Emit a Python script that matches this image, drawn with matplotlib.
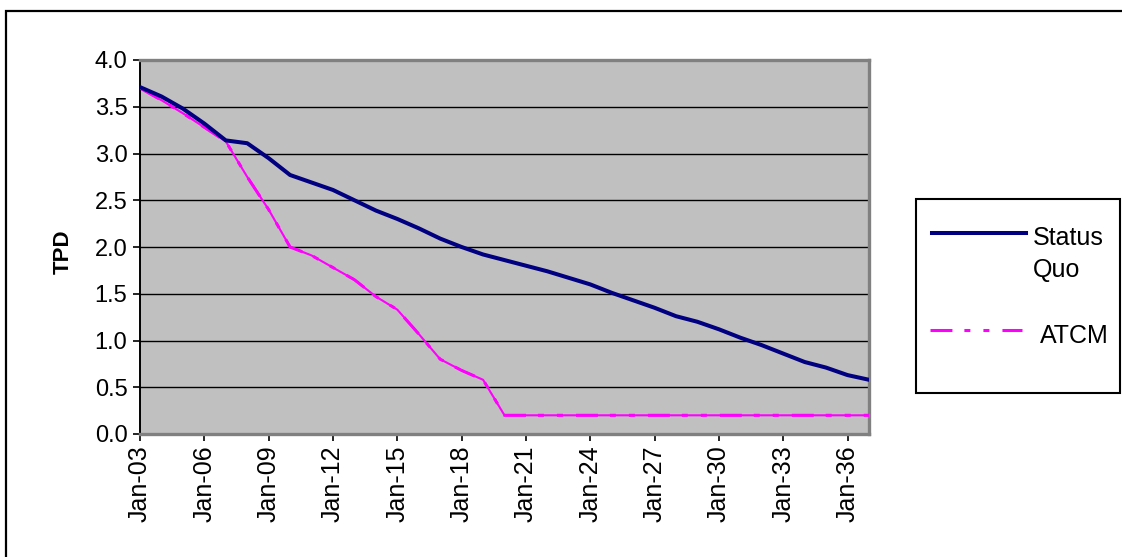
import numpy as np
import matplotlib
matplotlib.use("Agg")
import matplotlib.pyplot as plt
from matplotlib.patches import Rectangle
from matplotlib.lines import Line2D

plt.rcParams["font.family"] = ["Liberation Sans", "DejaVu Sans"]
plt.rcParams["lines.scale_dashes"] = False

# ---------------------------------------------------------
# data (annual values, Jan-03 .. Jan-37)
# ---------------------------------------------------------
years = list(range(2003, 2038))

status_quo = [3.71, 3.61, 3.48, 3.32, 3.14, 3.11, 2.95, 2.77, 2.69, 2.61,
              2.50, 2.39, 2.30, 2.20, 2.09, 2.00, 1.92, 1.86, 1.80, 1.74,
              1.67, 1.60, 1.51, 1.43, 1.35, 1.26, 1.20, 1.12, 1.03, 0.95,
              0.86, 0.77, 0.71, 0.63, 0.58]

atcm = [3.70, 3.57, 3.43, 3.28, 3.13, 2.75, 2.40, 2.00, 1.91, 1.78,
        1.65, 1.47, 1.33, 1.07, 0.80, 0.68, 0.58, 0.20, 0.20, 0.20,
        0.20, 0.20, 0.20, 0.20, 0.20, 0.20, 0.20, 0.20, 0.20, 0.20,
        0.20, 0.20, 0.20, 0.20, 0.20]

tick_years = [2003, 2006, 2009, 2012, 2015, 2018, 2021, 2024, 2027, 2030, 2033, 2036]
tick_labels = ["Jan-03", "Jan-06", "Jan-09", "Jan-12", "Jan-15", "Jan-18",
               "Jan-21", "Jan-24", "Jan-27", "Jan-30", "Jan-33", "Jan-36"]

y_ticks = [0.0, 0.5, 1.0, 1.5, 2.0, 2.5, 3.0, 3.5, 4.0]

NAVY = "#000080"
MAGENTA = "#FF00FF"
DASH_DOT_DOT = (0, (15.8, 8.6, 4.3, 9.4, 4.3, 9.4))

W, H = 1122, 557


def fx(px):
    return px / W


def fy(py):
    return 1 - py / H


# ---------------------------------------------------------
# figure
# ---------------------------------------------------------
fig = plt.figure(figsize=(W / 100, H / 100), dpi=100)

ax = fig.add_axes([fx(140), fy(434), fx(869) - fx(140), fy(60) - fy(434)])
ax.set_facecolor("#C0C0C0")

x = [y - years[0] for y in years]
# thin solid trace with the dash-dot-dot pattern laid over it
ax.plot(x, atcm, color=MAGENTA, lw=1.5, zorder=3)
ax.plot(x, atcm, color=MAGENTA, lw=2.2, linestyle=DASH_DOT_DOT, zorder=3)
ax.plot(x, status_quo, color=NAVY, lw=2.9, zorder=4)

ax.set_xlim(0, years[-1] - years[0])
ax.set_ylim(0, 4)
ax.set_xticks([t - years[0] for t in tick_years])
ax.set_xticklabels(tick_labels, rotation=90, fontsize=18)
ax.set_yticks(y_ticks)
ax.set_yticklabels([f"{v:.1f}" for v in y_ticks], fontsize=17)
ax.tick_params(axis="both", direction="out", length=5, width=1.2, color="black")
ax.tick_params(axis="y", pad=4)
ax.tick_params(axis="x", pad=3)

ax.yaxis.grid(True, color="black", lw=1.0)
ax.set_axisbelow(True)

for side in ["top", "right", "bottom"]:
    ax.spines[side].set_color("#808080")
    ax.spines[side].set_linewidth(2.4)
ax.spines["left"].set_color("black")
ax.spines["left"].set_linewidth(1.4)

fig.text(fx(63), fy(252), "TPD", rotation=90, ha="center", va="center",
         fontsize=16, fontweight="bold")

# outer chart frame (runs off the right and bottom edges)
fig.add_artist(Rectangle((fx(6), -0.1), 2, fy(11) + 0.1, transform=fig.transFigure,
                         fill=False, ec="black", lw=1.6))

# legend box
fig.add_artist(Rectangle((fx(916), fy(393)), fx(1120) - fx(916), fy(199) - fy(393),
                         transform=fig.transFigure, fill=False, ec="black", lw=1.5))
fig.add_artist(Line2D([fx(932), fx(1026)], [fy(233), fy(233)], transform=fig.transFigure,
                      color=NAVY, lw=2.9))
fig.add_artist(Line2D([fx(930), fx(1022)], [fy(330), fy(330)], transform=fig.transFigure,
                      color=MAGENTA, lw=2.2, linestyle=DASH_DOT_DOT))
fig.text(fx(1033), fy(245), "Status", fontsize=18, va="baseline")
fig.text(fx(1033), fy(277), "Quo", fontsize=18, va="baseline")
fig.text(fx(1040), fy(343), "ATCM", fontsize=18, va="baseline")

fig.savefig("out.png", dpi=100)
